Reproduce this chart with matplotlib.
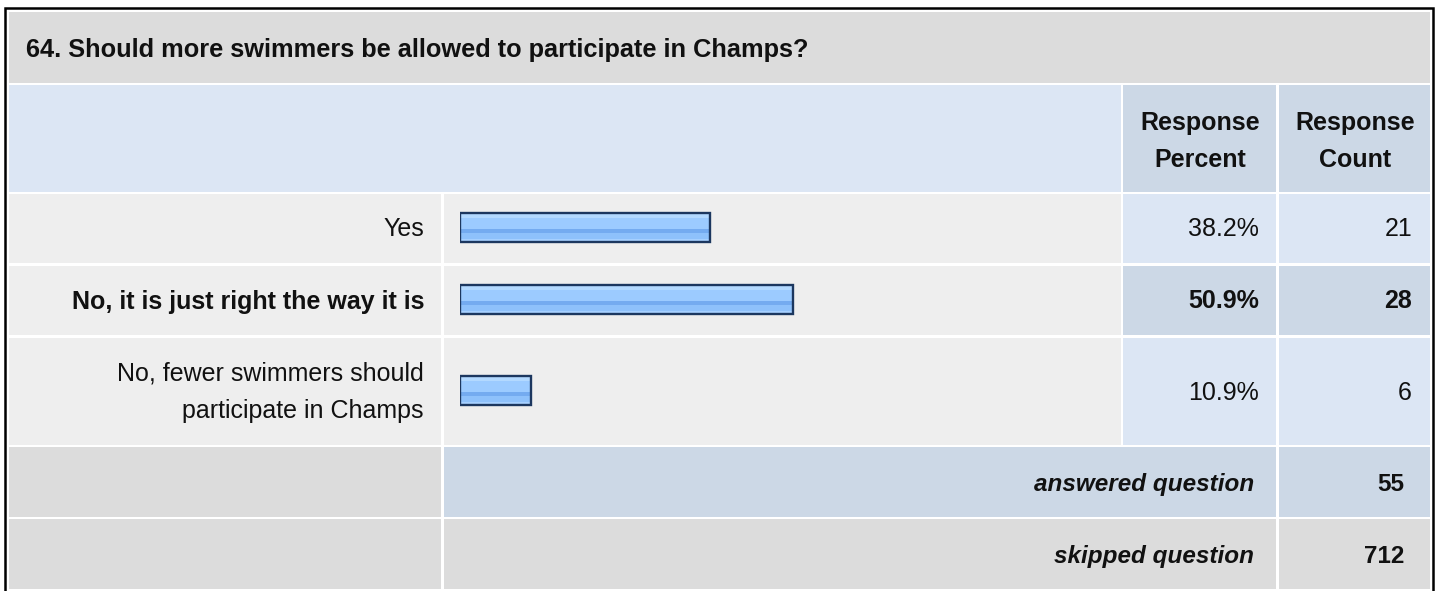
import numpy as np
import matplotlib.pyplot as plt
from matplotlib.colors import to_rgb
from matplotlib.patches import Rectangle

plt.rcParams['font.family'] = ['Liberation Sans', 'DejaVu Sans']

title = '64. Should more swimmers be allowed to participate in Champs?'
answers = ['Yes', 'No, it is just right the way it is',
           'No, fewer swimmers should\nparticipate in Champs']
percents = [38.2, 50.9, 10.9]
counts = [21, 28, 6]
answered = 55
skipped = 712

W, H = 1440, 591

# table layout in pixels (x ranges of columns, y ranges of rows)
col_label = (9, 441)
col_bar = (444, 1121)
col_pct = (1123, 1276)
col_cnt = (1279, 1430)
row_title = (12, 83)
row_head = (85, 192)
answer_rows = [(194, 263), (266, 335), (338, 445)]
row_answered = (447, 517)
row_skipped = (519, 589)

GRAY = '#DCDCDC'
LIGHT = '#EEEEEE'
BLUE = '#DCE6F4'
BLUE2 = '#CCD8E6'
INK = '#111111'
FS = 18
LS = 1.7


def cell(ax, xr, yr, color):
    ax.add_patch(Rectangle((xr[0], yr[0]), xr[1] - xr[0], yr[1] - yr[0],
                           facecolor=color, edgecolor='none', zorder=1))


fig = plt.figure(figsize=(W / 100, H / 100), dpi=100)
ax = fig.add_axes([0, 0, 1, 1])
ax.set_xlim(0, W)
ax.set_ylim(H, 0)
ax.axis('off')

# outer frame
ax.plot([5, 5, 1433, 1433], [595, 8, 8, 595], color='black', lw=1.8,
        solid_joinstyle='miter', zorder=5)

# title row
cell(ax, (9, 1430), row_title, GRAY)
ax.text(26, 57, title, fontsize=18.3, fontweight='bold', color=INK,
        va='baseline', ha='left', zorder=4)

# header row (baseline given for the last line)
cell(ax, (9, 1121), row_head, BLUE)
cell(ax, col_pct, row_head, BLUE2)
cell(ax, col_cnt, row_head, BLUE2)
ax.text(1200, 167, 'Response\nPercent', fontsize=FS, fontweight='bold',
        color=INK, ha='center', va='baseline', linespacing=LS,
        multialignment='center', zorder=4)
ax.text(1355, 167, 'Response\nCount', fontsize=FS, fontweight='bold',
        color=INK, ha='center', va='baseline', linespacing=LS,
        multialignment='center', zorder=4)

# answer rows
best = int(np.argmax(percents))
centers = []
for i, (yr, label, pct, cnt) in enumerate(zip(answer_rows, answers,
                                              percents, counts)):
    bold = 'bold' if i == best else 'normal'
    vcol = BLUE2 if i == best else BLUE
    cell(ax, col_label, yr, LIGHT)
    cell(ax, col_bar, yr, LIGHT)
    cell(ax, col_pct, yr, vcol)
    cell(ax, col_cnt, yr, vcol)
    mid = (yr[0] + yr[1]) / 2
    centers.append(mid - 1.5)
    nlines = label.count('\n') + 1
    base = mid + 8 + (nlines - 1) * 18.4
    ax.text(424, base, label, fontsize=FS, fontweight=bold, color=INK,
            ha='right', va='baseline', linespacing=LS,
            multialignment='right', zorder=4)
    ax.text(1259, mid + 8, f'{pct:.1f}%', fontsize=FS, fontweight=bold,
            color=INK, ha='right', va='baseline', zorder=4)
    ax.text(1412, mid + 8, str(cnt), fontsize=FS, fontweight=bold,
            color=INK, ha='right', va='baseline', zorder=4)

# summary rows
cell(ax, col_label, row_answered, GRAY)
cell(ax, (col_bar[0], col_pct[1]), row_answered, BLUE2)
cell(ax, col_cnt, row_answered, BLUE2)
cell(ax, col_label, row_skipped, GRAY)
cell(ax, (col_bar[0], col_pct[1]), row_skipped, GRAY)
cell(ax, col_cnt, row_skipped, GRAY)
for yr, label, val in [(row_answered, 'answered question', answered),
                       (row_skipped, 'skipped question', skipped)]:
    base = (yr[0] + yr[1]) / 2 + 9
    ax.text(1254, base, label, fontsize=17.5, fontweight='bold',
            fontstyle='italic', color=INK, ha='right', va='baseline',
            zorder=4)
    ax.text(1404, base, str(val), fontsize=17.5, fontweight='bold',
            color=INK, ha='right', va='baseline', zorder=4)

# bars: own axes with a 0-100 % scale across the bar column
top, bottom = answer_rows[0][0], answer_rows[-1][1]
bax = fig.add_axes([460 / W, (H - bottom) / H, 655 / W, (bottom - top) / H])
bax.patch.set_alpha(0)
bax.axis('off')

stripes = (['#CFE8FF'] * 2 + ['#B3D9FF'] * 3 + ['#9CCBFF'] * 10 +
           ['#74ABF0'] * 4 + ['#8EC1FB'] * 5 + ['#A6D0FF'] * 2)
grad = np.array([to_rgb(c) for c in stripes])[:, None, :]

bh = 29
bars = bax.barh(centers, percents, height=bh, color='none',
                edgecolor='#1C375F', linewidth=1.7, zorder=3)
for bar, y, p in zip(bars, centers, percents):
    im = bax.imshow(grad, extent=[0, p, y + bh / 2, y - bh / 2],
                    aspect='auto', interpolation='nearest', zorder=2)
    im.set_clip_path(bar)
bax.set_xlim(0, 100)
bax.set_ylim(bottom, top)

fig.savefig('out.png', dpi=100, facecolor='white')
